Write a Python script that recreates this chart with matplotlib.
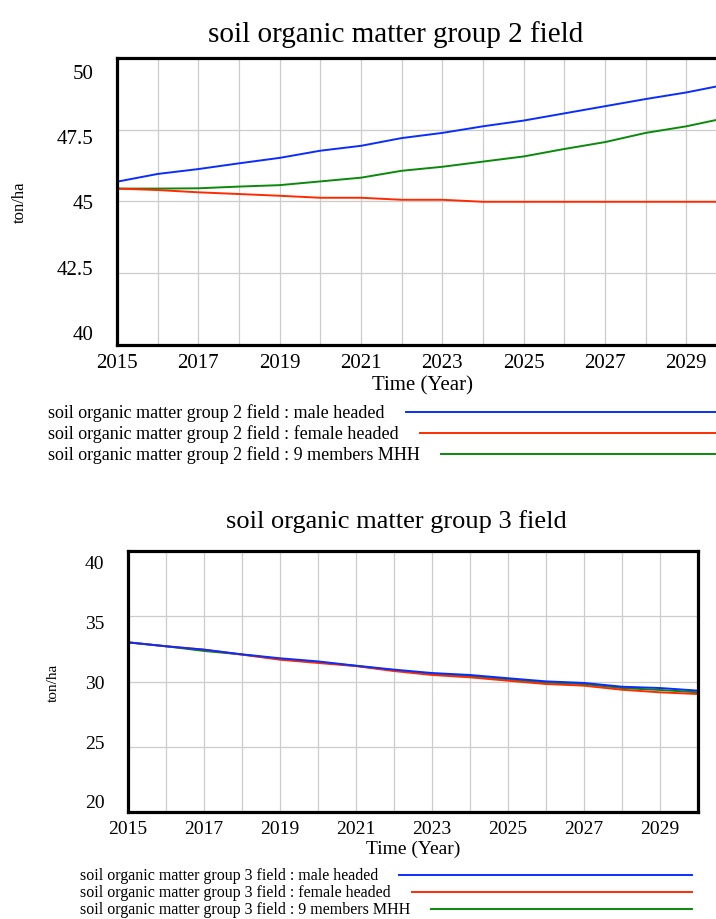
import matplotlib
matplotlib.use("Agg")
import matplotlib.pyplot as plt
import matplotlib.transforms as mtransforms
from matplotlib.lines import Line2D

plt.rcParams['font.family'] = ['Liberation Serif', 'DejaVu Serif']

years = list(range(2015, 2031))

# group 2 field (ton/ha)
g2_male = [45.69, 45.96, 46.13, 46.33, 46.52, 46.77, 46.94, 47.21, 47.39, 47.62,
           47.82, 48.07, 48.32, 48.57, 48.80, 49.08]
g2_female = [45.45, 45.40, 45.32, 45.26, 45.20, 45.13, 45.13, 45.06, 45.06, 44.99,
             44.99, 44.99, 44.99, 44.99, 44.99, 44.99]
g2_mhh = [45.45, 45.45, 45.46, 45.52, 45.57, 45.70, 45.83, 46.07, 46.21, 46.39,
          46.57, 46.83, 47.07, 47.39, 47.62, 47.92]

# group 3 field (ton/ha)
g3_male = [33.0, 32.70, 32.44, 32.08, 31.78, 31.54, 31.21, 30.91, 30.65, 30.50,
           30.25, 30.01, 29.89, 29.60, 29.50, 29.30]
g3_female = [33.0, 32.70, 32.44, 32.06, 31.67, 31.42, 31.18, 30.80, 30.50, 30.32,
             30.06, 29.81, 29.68, 29.37, 29.17, 29.04]
g3_mhh = [33.0, 32.70, 32.34, 32.07, 31.72, 31.48, 31.20, 30.86, 30.58, 30.42,
          30.16, 29.92, 29.80, 29.50, 29.35, 29.17]

g2_yticks = [40, 42.5, 45, 47.5, 50]
g2_ylabels = ["40", "42.5", "45", "47.5", "50"]
g3_yticks = [20, 25, 30, 35, 40]
g3_ylabels = ["20", "25", "30", "35", "40"]

groups = ["male headed", "female headed", "9 members MHH"]
BLUE, RED, GREEN = "#0a2dff", "#ff2a00", "#0a8a0a"
colors = [BLUE, RED, GREEN]

W, H = 716, 920
fig = plt.figure(figsize=(W / 100, H / 100), dpi=100)


def px_box(left, top, right, bottom):
    return [left / W, 1 - bottom / H, (right - left) / W, (bottom - top) / H]


def style_axes(ax, yticks, ylabels, tick_fs, label_fs, ylab_x, shift):
    ax.set_xlim(2015, 2030)
    ax.set_ylim(yticks[0], yticks[-1])
    ax.set_xticks(years)
    ax.set_xticklabels([str(y) if (y - 2015) % 2 == 0 else "" for y in years])
    ax.set_yticks(yticks)
    ax.set_yticklabels(ylabels)
    ax.grid(True, color="#cccccc", linewidth=0.9)
    ax.set_axisbelow(True)
    ax.tick_params(length=0, labelsize=tick_fs, pad=6)
    ax.tick_params(axis="y", pad=17)
    for sp in ax.spines.values():
        sp.set_linewidth(2.3)
    ax.set_xlabel("Time (Year)", fontsize=tick_fs, labelpad=2)
    ax.set_ylabel("ton/ha", fontsize=label_fs, va="center")
    ax.yaxis.set_label_coords(ylab_x, 0.5)
    # spread y labels inward from the top and bottom edges
    n = len(yticks)
    for i, lab in enumerate(ax.get_yticklabels()):
        dy = shift * (1 - 2 * i / (n - 1))
        off = mtransforms.ScaledTranslation(0, dy / 100, fig.dpi_scale_trans)
        lab.set_transform(lab.get_transform() + off)


# top chart: group 2
ax1 = fig.add_axes(px_box(117, 59, 727, 346))
ax1.plot(years, g2_male, color=BLUE, lw=1.4)
ax1.plot(years, g2_mhh, color=GREEN, lw=1.4)
ax1.plot(years, g2_female, color=RED, lw=1.4)
style_axes(ax1, g2_yticks, g2_ylabels, 15, 12, (20 - 117) / 610, 13)
ax1.spines["right"].set_visible(False)
fig.text(396 / W, 1 - 35 / H, "soil organic matter group 2 field",
         fontsize=21, ha="center", va="center")

# bottom chart: group 3
ax2 = fig.add_axes(px_box(128, 552, 698, 813))
ax2.plot(years, g3_mhh, color=GREEN, lw=1.4)
ax2.plot(years, g3_female, color=RED, lw=1.4)
ax2.plot(years, g3_male, color=BLUE, lw=1.4)
style_axes(ax2, g3_yticks, g3_ylabels, 14, 11, (53 - 128) / 570, 11)
fig.text(396 / W, 1 - 522 / H, "soil organic matter group 3 field",
         fontsize=19, ha="center", va="center")

# series key under each chart: label followed by a line to the edge
renderer = fig.canvas.get_renderer()
keys = [
    ("soil organic matter group 2 field", 48, [413, 434, 455], 716, 13),
    ("soil organic matter group 3 field", 80, [876, 893, 910], 692, 11.5),
]
for var, x0, rows, x_end, fs in keys:
    for name, c, y in zip(groups, colors, rows):
        t = fig.text(x0 / W, 1 - y / H, f"{var} : {name}", fontsize=fs,
                     ha="left", va="center")
        x1 = t.get_window_extent(renderer).x1 + 21
        fig.add_artist(Line2D([x1 / W, x_end / W], [1 - y / H, 1 - y / H],
                              color=c, lw=1.4, transform=fig.transFigure))

fig.savefig("out.png", dpi=100)
